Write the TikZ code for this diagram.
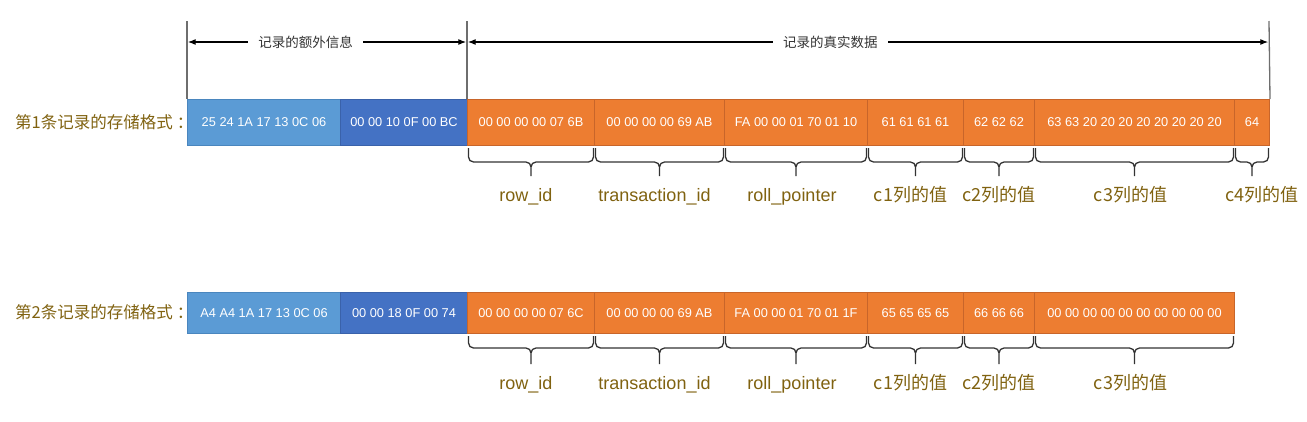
\documentclass[tikz,border=0pt]{standalone}
\usepackage{fontspec}
\setmainfont{Liberation Sans}
\newfontfamily\cjk{Noto Sans CJK SC}
\usetikzlibrary{arrows.meta,calc}
\definecolor{lbfill}{HTML}{5B9BD5}
\definecolor{lbdraw}{HTML}{4A86BE}
\definecolor{dbfill}{HTML}{4472C4}
\definecolor{dbdraw}{HTML}{3A62AA}
\definecolor{orfill}{HTML}{ED7D31}
\definecolor{ordraw}{HTML}{C8652A}
\definecolor{lblc}{RGB}{128,98,16}
\definecolor{darkc}{HTML}{333333}
\definecolor{vlinec}{HTML}{6E6E6E}

\tikzset{
  cell/.style={anchor=north west, inner sep=0pt, line width=1pt, text=white,
    font=\fontsize{12.8pt}{14pt}\selectfont},
  lbcell/.style={cell, fill=lbfill, draw=lbdraw},
  dbcell/.style={cell, fill=dbfill, draw=dbdraw},
  orcell/.style={cell, fill=orfill, draw=ordraw},
  rowa/.style={minimum height=46pt},
  rowb/.style={minimum height=41pt},
  brc/.style={draw=darkc, line width=1.3pt},
  lbl/.style={text=lblc, font=\fontsize{18pt}{20pt}\selectfont, inner sep=0pt, anchor=base},
  rowlbl/.style={text=lblc, font=\cjk\fontsize{16.5pt}{18pt}\selectfont, anchor=west, inner sep=0pt},
  dimln/.style={draw=vlinec, line width=1.3pt},
  dimarr/.style={draw=black, line width=1.2pt, {Latex[length=8pt,width=6pt]}-{Latex[length=8pt,width=6pt]}},
  dimtxt/.style={fill=white, text=darkc, font=\cjk\fontsize{13.5pt}{15pt}\selectfont,
    inner xsep=10pt, inner ysep=2pt},
}

% #1 box node, #2 label node name, #3 label text, #4 label x offset (pt), #5 depth of horizontal part
\newcommand\recbrace[5]{%
  \draw[brc] let \p1=(#1.south west), \p2=(#1.south east), \n1={(\x1+\x2)/2} in
    (\x1+1.5pt,\y1-2pt) -- (\x1+1.5pt,\y1-#5pt+5pt)
      to[out=-90,in=180] (\x1+6.5pt,\y1-#5pt) -- (\n1-5pt,\y1-#5pt)
      to[out=0,in=90] (\n1,\y1-#5pt-5pt) -- (\n1,\y1-30pt) coordinate (#2tip)
    (\n1,\y1-#5pt-5pt) to[out=90,in=180] (\n1+5pt,\y1-#5pt) -- (\x2-6.5pt,\y1-#5pt)
      to[out=0,in=-90] (\x2-1.5pt,\y1-#5pt+5pt) -- (\x2-1.5pt,\y1-2pt);
  \node[lbl] (#2) at ([xshift=#4pt,yshift=-25pt]#2tip) {#3};
}

\begin{document}
\begin{tikzpicture}[x=1pt,y=-1pt]
\useasboundingbox (0,0) rectangle (1307,421);

% ---------- row 1 ----------
\node[lbcell,rowa,minimum width=153pt] (r1a) at (187,99) {25 24 1A 17 13 0C 06};
\node[dbcell,rowa,minimum width=127pt] (r1b) at (340,99) {00 00 10 0F 00 BC};
\node[orcell,rowa,minimum width=127pt] (r1c) at (467,99) {00 00 00 00 07 6B};
\node[orcell,rowa,minimum width=130pt] (r1d) at (594,99) {00 00 00 00 69 AB};
\node[orcell,rowa,minimum width=143pt] (r1e) at (724,99) {FA 00 00 01 70 01 10};
\node[orcell,rowa,minimum width=96pt]  (r1f) at (867,99) {61 61 61 61};
\node[orcell,rowa,minimum width=71pt]  (r1g) at (963,99) {62 62 62};
\node[orcell,rowa,minimum width=200pt] (r1h) at (1034,99) {63 63 20 20 20 20 20 20 20 20};
\node[orcell,rowa,minimum width=35pt]  (r1i) at (1234,99) {64};

\node[rowlbl] (r1name) at (15,122) {第1条记录的存储格式\hspace{4pt}：};

\recbrace{r1c}{r1lc}{row\_id}{-5}{16}
\recbrace{r1d}{r1ld}{transaction\_id}{-5}{16}
\recbrace{r1e}{r1le}{roll\_pointer}{-4}{16}
\recbrace{r1f}{r1lf}{{\cjk c1列的值}}{-5}{16}
\recbrace{r1g}{r1lg}{{\cjk c2列的值}}{0}{16}
\recbrace{r1h}{r1lh}{{\cjk c3列的值}}{-4}{16}
\recbrace{r1i}{r1li}{{\cjk c4列的值}}{10}{16}

% ---------- dimension lines ----------
\coordinate (v1) at (187,21);
\coordinate (v2) at (467,21);
\coordinate (v3) at (1269,21);
\draw[dimln] (v1) -- (r1a.north west);
\draw[dimln] (v2) -- (r1c.north west);
\draw[dimln] (v3) -- (r1i.north east);
\coordinate (a1) at (187.7,42);
\coordinate (a2) at (466.3,42);
\coordinate (a3) at (467.7,42);
\coordinate (a4) at (1268.3,42);
\draw[dimarr] (a1) -- node[dimtxt,pos=0.423] (ex) {记录的额外信息} (a2);
\draw[dimarr] (a3) -- node[dimtxt,pos=0.453] (re) {记录的真实数据} (a4);

% ---------- row 2 ----------
\node[lbcell,rowb,minimum width=153pt] (r2a) at (187,292) {A4 A4 1A 17 13 0C 06};
\node[dbcell,rowb,minimum width=127pt] (r2b) at (340,292) {00 00 18 0F 00 74};
\node[orcell,rowb,minimum width=127pt] (r2c) at (467,292) {00 00 00 00 07 6C};
\node[orcell,rowb,minimum width=130pt] (r2d) at (594,292) {00 00 00 00 69 AB};
\node[orcell,rowb,minimum width=143pt] (r2e) at (724,292) {FA 00 00 01 70 01 1F};
\node[orcell,rowb,minimum width=96pt]  (r2f) at (867,292) {65 65 65 65};
\node[orcell,rowb,minimum width=71pt]  (r2g) at (963,292) {66 66 66};
\node[orcell,rowb,minimum width=200pt] (r2h) at (1034,292) {00 00 00 00 00 00 00 00 00 00};

\node[rowlbl] (r2name) at (15,312.5) {第2条记录的存储格式\hspace{4pt}：};

\recbrace{r2c}{r2lc}{row\_id}{-5}{14}
\recbrace{r2d}{r2ld}{transaction\_id}{-5}{14}
\recbrace{r2e}{r2le}{roll\_pointer}{-4}{14}
\recbrace{r2f}{r2lf}{{\cjk c1列的值}}{-5}{14}
\recbrace{r2g}{r2lg}{{\cjk c2列的值}}{0}{14}
\recbrace{r2h}{r2lh}{{\cjk c3列的值}}{-4}{14}
\end{tikzpicture}
\end{document}
